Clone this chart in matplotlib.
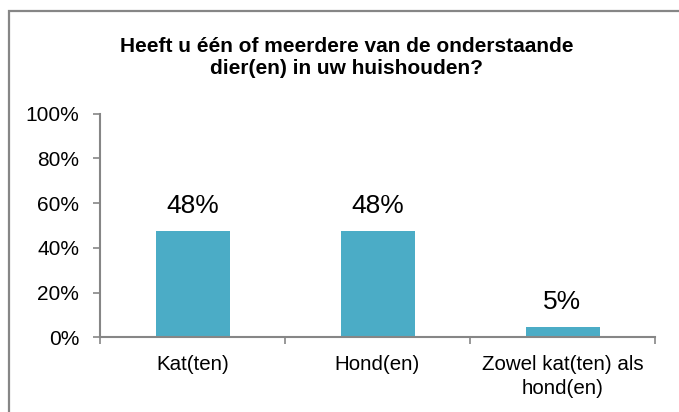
import matplotlib
matplotlib.use("Agg")
import matplotlib.pyplot as plt
from matplotlib.patches import Rectangle
from matplotlib.ticker import FixedLocator, PercentFormatter

categories = ["Kat(ten)", "Hond(en)", "Zowel kat(ten) als\nhond(en)"]
values = [47.5, 47.7, 4.6]
value_labels = ["48%", "48%", "5%"]
title = "Heeft u één of meerdere van de onderstaande\ndier(en) in uw huishouden?"

plt.rcParams['font.family'] = ['Liberation Sans', 'DejaVu Sans']

W, H = 679, 412
fig = plt.figure(figsize=(W / 100, H / 100), dpi=100)
ax = fig.add_axes([100 / W, 1 - 337.3 / H, 555 / W, 223.8 / H])

grey = "#868686"
x = list(range(len(categories)))
bars = ax.bar(x, values, width=0.4, color="#4BACC6", zorder=2)

ax.set_xlim(-0.5, len(categories) - 0.5)
ax.set_ylim(0, 100)
ax.yaxis.set_major_locator(FixedLocator([0, 20, 40, 60, 80, 100]))
ax.yaxis.set_major_formatter(PercentFormatter(decimals=0))

ax.set_xticks(x)
ax.set_xticklabels(categories, fontsize=14.8, linespacing=1.3)
ax.xaxis.set_minor_locator(FixedLocator([i - 0.5 for i in range(len(categories) + 1)]))
ax.tick_params(axis='x', which='major', length=0, pad=13)
ax.tick_params(axis='x', which='minor', length=5, width=1.2, color=grey, direction='out')
ax.tick_params(axis='y', length=5, width=1.2, color=grey, direction='out', pad=10, labelsize=15)

for s in ['top', 'right']:
    ax.spines[s].set_visible(False)
for s in ['left', 'bottom']:
    ax.spines[s].set_color(grey)
    ax.spines[s].set_linewidth(1.5)

for b, lab in zip(bars, value_labels):
    ax.annotate(lab, (b.get_x() + b.get_width() / 2, b.get_height()),
                xytext=(0, 18), textcoords='offset points',
                ha='center', va='center', fontsize=19)

fig.text(347 / W, 1 - 57.5 / H, title, ha='center', va='center',
         fontsize=15, fontweight='bold', linespacing=1.25, multialignment='center')

fig.patches.append(Rectangle((9 / W, -0.1), 1.2, 1 - 11 / H + 0.1,
                             transform=fig.transFigure, fill=False,
                             edgecolor=grey, linewidth=1.6))

fig.savefig("out.png", dpi=100)
